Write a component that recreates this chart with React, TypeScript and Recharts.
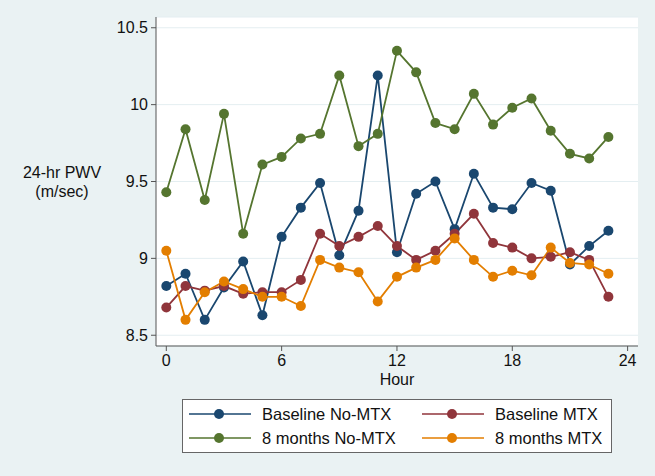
import React from "react";
import { LineChart, Line, XAxis, YAxis, CartesianGrid } from "recharts";

const hours = [0,1,2,3,4,5,6,7,8,9,10,11,12,13,14,15,16,17,18,19,20,21,22,23];
const baselineNoMTX = [8.82,8.90,8.60,8.81,8.98,8.63,9.14,9.33,9.49,9.02,9.31,10.19,9.04,9.42,9.50,9.19,9.55,9.33,9.32,9.49,9.44,8.96,9.08,9.18];
const baselineMTX = [8.68,8.82,8.79,8.82,8.77,8.78,8.78,8.86,9.16,9.08,9.14,9.21,9.08,8.99,9.05,9.16,9.29,9.10,9.07,9.00,9.01,9.04,8.99,8.75];
const months8NoMTX = [9.43,9.84,9.38,9.94,9.16,9.61,9.66,9.78,9.81,10.19,9.73,9.81,10.35,10.21,9.88,9.84,10.07,9.87,9.98,10.04,9.83,9.68,9.65,9.79];
const months8MTX = [9.05,8.60,8.78,8.85,8.80,8.75,8.75,8.69,8.99,8.94,8.91,8.72,8.88,8.94,8.99,9.13,8.99,8.88,8.92,8.89,9.07,8.97,8.96,8.90];
const xTicks = [0, 6, 12, 18, 24];
const yTicks = [8.5, 9, 9.5, 10, 10.5];

const series = [
  { key: "bNo", name: "Baseline No-MTX", color: "#1a476f", values: baselineNoMTX },
  { key: "bM", name: "Baseline MTX", color: "#90353b", values: baselineMTX },
  { key: "mNo", name: "8 months No-MTX", color: "#55752f", values: months8NoMTX },
  { key: "mM", name: "8 months MTX", color: "#e37e00", values: months8MTX },
];

const data = hours.map((h, i) => {
  const row: any = { hour: h };
  series.forEach((s) => (row[s.key] = s.values[i]));
  return row;
});

const FONT = "'Liberation Sans', Arial, Helvetica, sans-serif";
const BG = "#eaf2f3";

const fmtY = (v: number) => String(v);

function LegendItem({ s }: { s: any }) {
  return (
    <div style={{ display: "flex", alignItems: "center", height: 24 }}>
      <svg width={62} height={14} style={{ marginRight: 11 }}>
        <line x1={0} y1={7} x2={62} y2={7} stroke={s.color} strokeWidth={1.5} />
        <circle cx={30} cy={7} r={5} fill={s.color} />
      </svg>
      <span style={{ fontSize: 16.5, color: "#111", whiteSpace: "nowrap" }}>{s.name}</span>
    </div>
  );
}

export default function App() {
  return (
    <div style={{ position: "absolute", left: 0, top: 0, width: 655, height: 476, background: BG, fontFamily: FONT }}>
      <LineChart width={655} height={476} data={data} margin={{ top: 17, right: 17, bottom: 0, left: 0 }}>
        <CartesianGrid vertical={false} horizontal={true} stroke="#e4eef1" fill="#ffffff" strokeWidth={1} />
        <XAxis
          dataKey="hour"
          type="number"
          domain={[-0.536, 24.54]}
          allowDataOverflow
          ticks={xTicks}
          tickSize={5}
          tickMargin={4}
          height={130}
          stroke="#555"
          tick={{ fill: "#111", fontSize: 16, fontFamily: FONT }}
          label={{ value: "Hour", position: "insideTop", offset: 28, fill: "#111", fontSize: 16, fontFamily: FONT }}
        />
        <YAxis
          type="number"
          domain={[8.43, 10.57]}
          allowDataOverflow
          ticks={yTicks}
          tickFormatter={fmtY}
          tickSize={5}
          tickMargin={3}
          width={156}
          stroke="#555"
          tick={{ fill: "#111", fontSize: 16, fontFamily: FONT }}
          label={{
            content: () => (
              <text x={62} y={178} textAnchor="middle" fill="#111" fontSize={16} fontFamily={FONT}>
                <tspan x={62} dy={0}>24-hr PWV</tspan>
                <tspan x={62} dy={19}>(m/sec)</tspan>
              </text>
            ),
          }}
        />
        {series.map((s) => (
          <Line
            key={s.key}
            dataKey={s.key}
            name={s.name}
            stroke={s.color}
            strokeWidth={1.8}
            dot={{ r: 5, fill: s.color, stroke: s.color, strokeWidth: 0 }}
            activeDot={false}
            isAnimationActive={false}
            type="linear"
          />
        ))}
      </LineChart>
      <div
        style={{
          position: "absolute",
          left: 182,
          top: 399,
          width: 430,
          height: 54,
          background: "#fff",
          border: "1px solid #666",
          boxSizing: "border-box",
          display: "grid",
          gridTemplateColumns: "233px 190px",
          alignContent: "center",
          paddingLeft: 6,
        }}
      >
        <LegendItem s={series[0]} />
        <LegendItem s={series[1]} />
        <LegendItem s={series[2]} />
        <LegendItem s={series[3]} />
      </div>
    </div>
  );
}
